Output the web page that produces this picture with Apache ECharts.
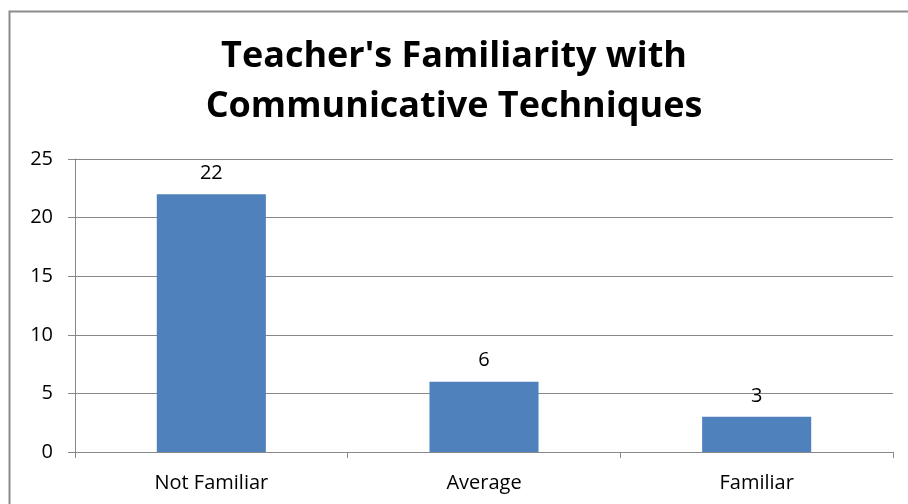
<!DOCTYPE html>
<html>
<head>
<meta charset="utf-8">
<script src="https://cdn.jsdelivr.net/npm/echarts@6/dist/echarts.min.js"></script>
<style>
  html, body { margin: 0; padding: 0; background: #fff; }
  #chart { width: 908px; height: 504px; }
</style>
</head>
<body>
<div id="chart"></div>
<script>
const categories = ['Not Familiar', 'Average', 'Familiar']
const counts = [22, 6, 3]
const yTicks = { min: 0, max: 25, interval: 5 }

const chart = echarts.init(document.getElementById('chart'), null, { renderer: 'canvas' })

chart.setOption({
  animation: false,
  title: {
    text: "Teacher's Familiarity with\nCommunicative Techniques",
    left: 'center',
    top: 27,
    textStyle: {
      fontFamily: 'Open Sans',
      fontWeight: 'bold',
      fontSize: 36,
      lineHeight: 50,
      color: '#000'
    }
  },
  graphic: [{
    type: 'rect',
    shape: { x: 9.5, y: 11.5, width: 920, height: 520 },
    style: { fill: 'none', stroke: '#8c8c8c', lineWidth: 2 },
    silent: true
  }],
  grid: { left: 75, right: 15, top: 159, bottom: 52 },
  xAxis: {
    type: 'category',
    data: categories,
    axisLine: { lineStyle: { color: '#888', width: 1 } },
    axisTick: { show: true, length: 6, lineStyle: { color: '#888' } },
    axisLabel: { fontFamily: 'Open Sans', fontSize: 20, color: '#000', margin: 21 }
  },
  yAxis: {
    type: 'value',
    min: yTicks.min,
    max: yTicks.max,
    interval: yTicks.interval,
    axisLine: { show: true, lineStyle: { color: '#888' } },
    axisTick: { show: true, length: 7, inside: false, lineStyle: { color: '#888' } },
    splitLine: { lineStyle: { color: '#888', width: 1 } },
    axisLabel: { fontFamily: 'Open Sans', fontSize: 20, color: '#000', margin: 22 }
  },
  series: [{
    type: 'bar',
    data: counts,
    barWidth: '40%',
    itemStyle: { color: '#4f81bd' },
    label: {
      show: true,
      position: 'top',
      distance: 11,
      fontFamily: 'Open Sans',
      fontSize: 20,
      color: '#000'
    }
  }]
})
</script>
</body>
</html>
